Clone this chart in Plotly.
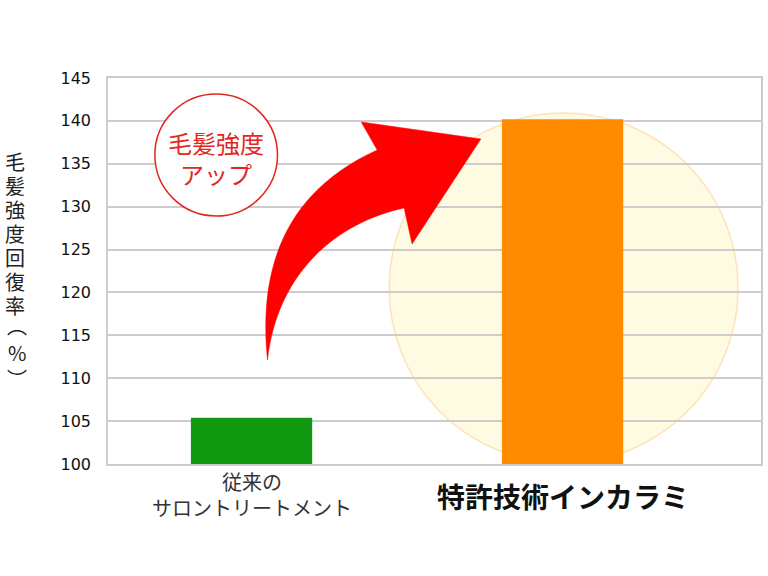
import plotly.graph_objects as go

categories = ["従来の<br>サロントリートメント", "特許技術インカラミ"]
values = [105.4, 140.2]
bar_colors = ["#119911", "#ff8c00"]
tick_vals = [100, 105, 110, 115, 120, 125, 130, 135, 140, 145]
y_title = "毛髪強度回復率（%）"
badge_lines = ["毛髪強度", "アップ"]

W, H = 768, 576
L, R, T, B = 108, 5, 78, 112
PW, PH = W - L - R, H - T - B

def px2paper(x, y):
    return (x - L) / PW, (H - B - y) / PH

fig = go.Figure()
fig.add_trace(go.Bar(
    x=[0, 1], y=values, marker=dict(color=bar_colors, line=dict(width=0)),
    width=0.39, hoverinfo="skip",
))

shapes = []
# pale highlight circle behind orange bar
x0, y1 = px2paper(390, 113)
x1, y0 = px2paper(740, 463)
shapes.append(dict(type="circle", xref="paper", yref="paper", x0=x0, x1=x1, y0=y0, y1=y1,
                   fillcolor="#fffbe2", line=dict(color="#fde3b8", width=1.5), layer="below"))

# red curved arrow (pixel-space outline, converted to paper units)
def P(x, y):
    a, b = px2paper(x, y)
    return f"{a:.5f},{b:.5f}"

path = ("M " + P(268, 360) +
        " C " + P(258, 262) + " " + P(290, 190) + " " + P(378, 150) +
        " L " + P(362, 122) +
        " L " + P(482, 139) +
        " L " + P(413, 244) +
        " L " + P(405, 208) +
        " C " + P(340, 222) + " " + P(278, 270) + " " + P(268, 360) + " Z")
shapes.append(dict(type="path", xref="paper", yref="paper", path=path,
                   fillcolor="#ff0000", line=dict(color="#ff0000", width=0.5), layer="above"))

# red badge circle
cx0, cy1 = px2paper(155, 94)
cx1, cy0 = px2paper(278, 216)
shapes.append(dict(type="circle", xref="paper", yref="paper", x0=cx0, x1=cx1, y0=cy0, y1=cy1,
                   fillcolor="white", line=dict(color="#e3261e", width=1.5), layer="above"))

annotations = []
for txt, yy in zip(badge_lines, [142, 173]):
    bx, by = px2paper(216.5, yy)
    annotations.append(dict(xref="paper", yref="paper", x=bx, y=by, text=txt, showarrow=False,
                            xanchor="center", yanchor="middle",
                            font=dict(family="Noto Sans CJK JP", size=24, color="#e3261e")))

# vertical y-axis title, one upright character per line (vertical-form brackets)
chars = list(y_title.replace("（", "︵").replace("）", "︶"))
ys = [161, 185, 209, 233, 257, 281, 305, 325, 352, 378]
xs = [15, 15, 15, 15, 15, 15, 15, 17, 17, 17]
for ch, xx, yy in zip(chars, xs, ys):
    tx, ty = px2paper(xx, yy)
    annotations.append(dict(xref="paper", yref="paper", x=tx, y=ty, text=ch,
                            showarrow=False, xanchor="center", yanchor="middle",
                            font=dict(family="Noto Sans CJK JP", size=20, color="#222222")))

# category labels
annotations.append(dict(x=0, y=0, xref="x", yref="paper", yshift=-1, yanchor="top",
                        xanchor="center", text=categories[0], showarrow=False, align="center",
                        font=dict(family="Noto Sans CJK JP", size=20, color="#333333")))
annotations.append(dict(x=1, y=0, xref="x", yref="paper", yshift=-10, yanchor="top",
                        xanchor="center", text="<b>" + categories[1] + "</b>", showarrow=False,
                        font=dict(family="Noto Sans CJK JP", size=28, color="#111111")))

fig.update_layout(
    width=W, height=H, margin=dict(l=L, r=R, t=T, b=B),
    paper_bgcolor="white", plot_bgcolor="rgba(0,0,0,0)",
    showlegend=False, shapes=shapes, annotations=annotations,
    xaxis=dict(range=[-0.4615, 1.638], showticklabels=False, showgrid=False, zeroline=False,
               showline=True, mirror=True, linecolor="#cccccc", linewidth=1.5, fixedrange=True),
    yaxis=dict(range=[100, 145], tickvals=tick_vals, showgrid=True, gridcolor="#cccccc",
               gridwidth=1.5, zeroline=False, showline=True, mirror=True, linecolor="#cccccc",
               linewidth=1.5, ticks="", ticklen=0,
               tickfont=dict(family="DejaVu Sans", size=16, color="#111111"),
               ticklabelstandoff=12),
)

fig.write_html("out.html")
